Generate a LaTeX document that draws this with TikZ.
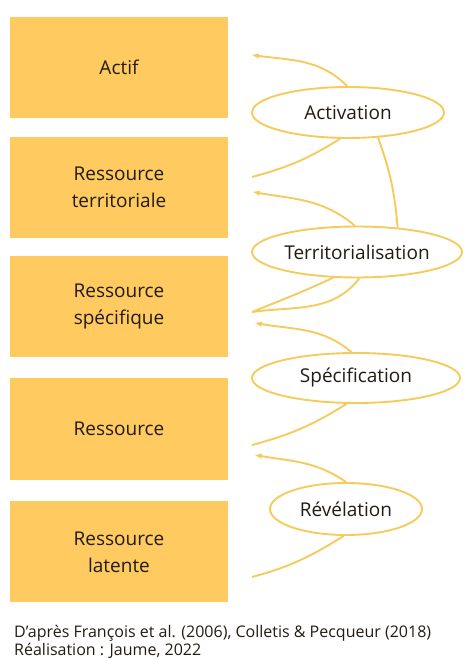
\documentclass[tikz,border=0pt]{standalone}
\usepackage{fontspec}
\setmainfont{Open Sans}
\usetikzlibrary{shapes.geometric,arrows.meta}
\definecolor{boxfill}{HTML}{FFCA5F}
\definecolor{linec}{HTML}{F5CB5E}
\definecolor{txt}{HTML}{221C14}
\tikzset{
  stagebox/.style={fill=boxfill, draw=none, minimum width=218pt, minimum height=101pt, inner sep=0pt, align=center, font=\fontsize{19}{27}\selectfont, text=txt},
  procell/.style={ellipse, draw=linec, line width=1.9pt, fill=white, inner sep=0pt, font=\fontsize{19}{22}\selectfont, text=txt},
  link/.style={draw=linec, line width=1.9pt},
  arr/.style={link, -{Stealth[length=7pt,width=5pt,inset=1pt]}},
}
\begin{document}
\begin{tikzpicture}[x=1pt,y=1pt]
\useasboundingbox (0,0) rectangle (464,660);
% boxes (y up)
\node[stagebox] (b1) at (119,592.5) {Actif};
\node[stagebox] (b2) at (119,472.5) {Ressource\\territoriale};
\node[stagebox] (b3) at (119,353) {Ressource\\spécifique};
\node[stagebox, minimum height=102pt] (b4) at (119,231) {Ressource};
\node[stagebox] (b5) at (119,108) {Ressource\\latente};
% ellipses
\node[procell, minimum width=192pt, minimum height=51pt] (act) at (348,547.5) {Activation};
\node[procell, minimum width=210pt, minimum height=51pt] (ter) at (357,408) {Territorialisation};
\node[procell, minimum width=208pt, minimum height=50pt] (spe) at (356,282) {Spécification};
\node[procell, minimum width=152pt, minimum height=52pt] (rev) at (346,151) {Révélation};
% free ends near boxes
\coordinate (t1) at (252,605);
\coordinate (i2) at (252,483);
\coordinate (t2) at (253,468);
\coordinate (i3) at (252,348);
\coordinate (t3) at (255,337);
\coordinate (i4) at (252,215);
\coordinate (t4) at (255,205);
\coordinate (i5) at (252,83);
% connectors
\draw[arr] (act.92) to[out=135,in=-8] (t1);
\draw[link] (i2) to[out=15,in=-148] (act.-107);
\draw[link] (act.-40) to[out=-70,in=95] (ter.31);
\draw[arr] (ter.95) to[out=140,in=-10] (t2);
\draw[link] (i3) to[out=8,in=-128] (ter.-85);
\draw[link] (i3) to[out=22,in=-155] (ter.-133);
\draw[arr] (spe.100) to[out=140,in=-10] (t3);
\draw[link] (i4) to[out=15,in=-148] (spe.-110);
\draw[arr] (rev.90) to[out=145,in=-10] (t4);
\draw[link] (i5) to[out=15,in=-148] (rev.-95);
% footer
\node[anchor=base west, inner sep=0pt, font=\fontsize{16}{18}\selectfont, text=txt] (src) at (14,22.5) {D'après François et al. (2006), Colletis \& Pecqueur (2018)};
\node[anchor=base west, inner sep=0pt, font=\fontsize{16}{18}\selectfont, text=txt] (real) at (14,4.5) {Réalisation : Jaume, 2022};
\end{tikzpicture}
\end{document}
